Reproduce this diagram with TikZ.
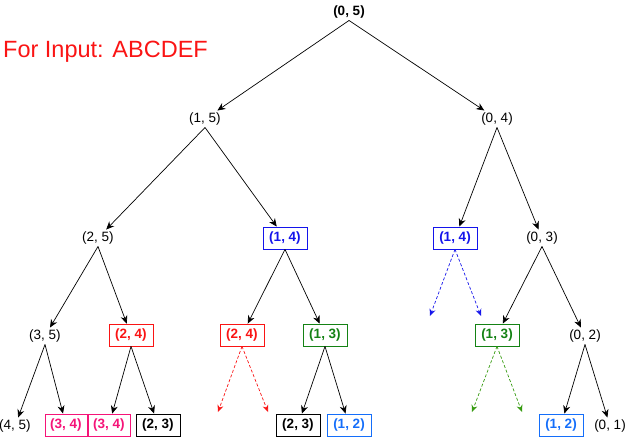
\documentclass[tikz,border=0pt]{standalone}
\usepackage{fontspec}
\setmainfont{Liberation Sans}
\usetikzlibrary{arrows.meta}

\definecolor{inkblue}{RGB}{20,20,235}
\definecolor{inkred}{RGB}{250,20,20}
\definecolor{inkgreen}{RGB}{20,130,20}
\definecolor{inkpink}{RGB}{245,20,120}
\definecolor{inksky}{RGB}{20,110,250}

\tikzstyle{state}=[font=\fontsize{13.5}{15}\selectfont,inner sep=2pt]
\tikzstyle{memo}=[rectangle,draw,line width=0.8pt,minimum width=44pt,minimum height=22pt,inner sep=0pt,font=\fontsize{13.5}{15}\selectfont\bfseries]
\tikzstyle{pre}=[<-,>={Stealth[length=8pt,width=7pt]},line width=0.7pt]
\tikzstyle{skip}=[->,>={Stealth[length=7pt,width=6pt]},line width=0.7pt,dash pattern=on 3pt off 2pt]

\begin{document}
\begin{tikzpicture}[x=1pt,y=-1pt]
        \useasboundingbox (0,0) rectangle (629,442);

        \node[anchor=west,text=inkred,font=\fontsize{23.5}{26}\selectfont,inner sep=0pt] (title) at (3,52) {For Input: ABCDEF};

        \node[state,font=\fontsize{13.5}{15}\selectfont\bfseries] (r05) at (349,12) {(0, 5)};

        \node[state] (r15) at (205,119) {(1, 5)}
         edge[pre] (r05.south);
        \node[state] (r04) at (497,119) {(0, 4)}
         edge[pre] (r05.south);

        \node[state] (r25) at (98,238) {(2, 5)}
         edge[pre] (r15.south);
        \node[memo,draw=inkblue,text=inkblue] (r14a) at (285,238) {(1, 4)}
         edge[pre] (r15.south);
        \node[memo,draw=inkblue,text=inkblue] (r14b) at (455,238) {(1, 4)}
         edge[pre] (r04.south);
        \node[state] (r03) at (542,238) {(0, 3)}
         edge[pre] (r04.south);

        \node[state] (r35) at (45,336) {(3, 5)}
         edge[pre] (r25.south);
        \node[memo,draw=inkred,text=inkred] (r24a) at (131,335) {(2, 4)}
         edge[pre] (r25.south);
        \node[memo,draw=inkred,text=inkred] (r24b) at (242,335) {(2, 4)}
         edge[pre] (r14a.south);
        \node[memo,draw=inkgreen,text=inkgreen] (r13a) at (325,335) {(1, 3)}
         edge[pre] (r14a.south);
        \node[memo,draw=inkgreen,text=inkgreen] (r13b) at (497,335) {(1, 3)}
         edge[pre] (r03.south);
        \node[state] (r02) at (585,336) {(0, 2)}
         edge[pre] (r03.south);

        \node[state] (r45) at (15,426) {(4, 5)}
         edge[pre] (r35.south);
        \node[memo,draw=inkpink,text=inkpink,minimum width=42pt] (r34a) at (66,425) {(3, 4)}
         edge[pre] (r35.south);
        \node[memo,draw=inkpink,text=inkpink,minimum width=42pt] (r34b) at (109,425) {(3, 4)}
         edge[pre] (r24a.south);
        \node[memo] (r23a) at (158,425) {(2, 3)}
         edge[pre] (r24a.south);
        \node[memo] (r23b) at (298,425) {(2, 3)}
         edge[pre] (r13a.south);
        \node[memo,draw=inksky,text=inksky] (r12a) at (349,425) {(1, 2)}
         edge[pre] (r13a.south);
        \node[memo,draw=inksky,text=inksky] (r12b) at (561,425) {(1, 2)}
         edge[pre] (r02.south);
        \node[state] (r01) at (610,426) {(0, 1)}
         edge[pre] (r02.south);

        % calls already answered by the memo
        \coordinate (cutA) at (218,412);
        \coordinate (cutB) at (268,412);
        \coordinate (cutC) at (430,316);
        \coordinate (cutD) at (481,316);
        \coordinate (cutE) at (472,412);
        \coordinate (cutF) at (522,412);
        \draw[skip,inkred] (r24b.south) -- (cutA);
        \draw[skip,inkred] (r24b.south) -- (cutB);
        \draw[skip,inkblue] (r14b.south) -- (cutC);
        \draw[skip,inkblue] (r14b.south) -- (cutD);
        \draw[skip,inkgreen!80!lime] (r13b.south) -- (cutE);
        \draw[skip,inkgreen!80!lime] (r13b.south) -- (cutF);
\end{tikzpicture}
\end{document}
